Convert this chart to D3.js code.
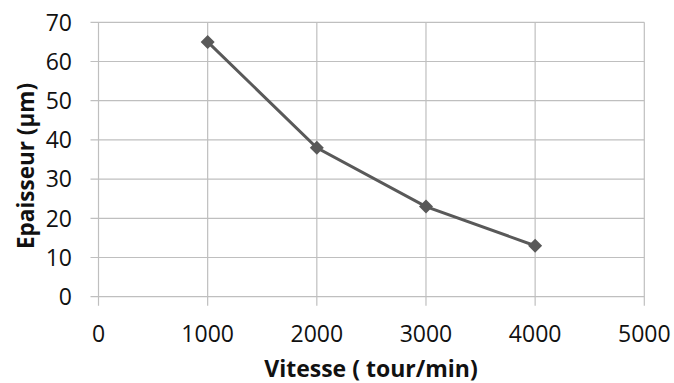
<!DOCTYPE html>
<html><head><meta charset="utf-8">
<script src="https://cdn.jsdelivr.net/npm/d3@7"></script>
<style>body{margin:0;background:#fff}svg{display:block}</style>
</head><body>
<script>
const speeds = [1000, 2000, 3000, 4000];
const thickness = [65, 38, 23, 13];
const xTicks = [0, 1000, 2000, 3000, 4000, 5000];
const yTicks = [0, 10, 20, 30, 40, 50, 60, 70];
const xTitle = "Vitesse ( tour/min)";
const yTitle = "Epaisseur (µm)";

const W = 674, H = 383;
const svg = d3.select("body").append("svg").attr("width", W).attr("height", H);
const x = d3.scaleLinear().domain([0, 5000]).range([98.5, 644.3]);
const y = d3.scaleLinear().domain([0, 70]).range([296.7, 22.3]);
const font = "'Open Sans', sans-serif";
const grid = "#bfbfbf";

svg.append("g").selectAll("line").data(yTicks).join("line")
  .attr("x1", x(0) - 8).attr("x2", x(5000))
  .attr("y1", d => y(d)).attr("y2", d => y(d))
  .attr("stroke", grid).attr("stroke-width", 1.2);
svg.append("g").selectAll("line").data(xTicks).join("line")
  .attr("x1", d => x(d)).attr("x2", d => x(d))
  .attr("y1", y(70)).attr("y2", y(0) + 9)
  .attr("stroke", grid).attr("stroke-width", 1.2);

svg.append("g").selectAll("text").data(yTicks).join("text")
  .attr("x", 72).attr("y", d => y(d)).attr("dy", "0.36em")
  .attr("text-anchor", "end").attr("font-family", font).attr("font-size", 23)
  .attr("fill", "#111").text(d => d);
svg.append("g").selectAll("text").data(xTicks).join("text")
  .attr("x", d => x(d)).attr("y", 341.5)
  .attr("text-anchor", "middle").attr("font-family", font).attr("font-size", 23)
  .attr("fill", "#111").text(d => d);

svg.append("text").attr("x", 371).attr("y", 377).attr("text-anchor", "middle")
  .attr("font-family", font).attr("font-weight", "bold").attr("font-size", 23)
  .attr("fill", "#111").text(xTitle);
svg.append("text").attr("transform", "translate(34,166) rotate(-90)")
  .attr("text-anchor", "middle")
  .attr("font-family", font).attr("font-weight", "bold").attr("font-size", 22.5)
  .attr("fill", "#111").text(yTitle);

const pts = speeds.map((s, i) => [s, thickness[i]]);
svg.append("path").datum(pts)
  .attr("d", d3.line().x(d => x(d[0])).y(d => y(d[1])))
  .attr("fill", "none").attr("stroke", "#595959").attr("stroke-width", 3);
svg.append("g").selectAll("path").data(pts).join("path")
  .attr("transform", d => `translate(${x(d[0])},${y(d[1])})`)
  .attr("d", "M0,-7L7,0L0,7L-7,0Z").attr("fill", "#595959");
</script>
</body></html>
